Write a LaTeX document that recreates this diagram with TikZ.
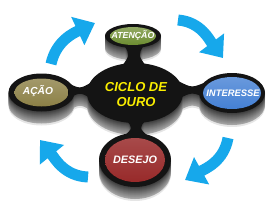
\documentclass[tikz,border=0pt]{standalone}
\usepackage{fontspec}
\setmainfont{Liberation Sans}
\usetikzlibrary{arrows.meta}
\definecolor{arrowblue}{RGB}{22,168,235}
\definecolor{atgreen}{RGB}{108,140,48}
\definecolor{inblue}{RGB}{68,128,212}
\definecolor{acolive}{RGB}{140,128,70}
\definecolor{dered}{RGB}{152,42,42}
\definecolor{ouroyellow}{RGB}{250,238,0}

% silhouette of the discs and the necks between them
\newcommand{\discshape}[1]{%
  \fill[#1] (135,117) ellipse [x radius=48pt, y radius=30pt];
  \fill[#1] (133,174) ellipse [x radius=28pt, y radius=12pt];
  \fill[#1] (232,117) ellipse [x radius=33pt, y radius=20pt];
  \fill[#1] (41.5,117.5) ellipse [x radius=33pt, y radius=19pt];
  \fill[#1] (135,50) ellipse [x radius=36pt, y radius=27pt];
  \fill[#1] (124,165) .. controls (130,155) .. (122,144) -- (146,144) .. controls (138,155) .. (144,165) -- cycle;
  \fill[#1] (126,90) .. controls (133,82) .. (124,74) -- (148,74) .. controls (139,82) .. (146,90) -- cycle;
  \fill[#1] (68,127) .. controls (80,121) .. (92,128) -- (92,111) .. controls (80,118) .. (68,111) -- cycle;
  \fill[#1] (178,129) .. controls (192,122) .. (206,128) -- (206,112) .. controls (192,118) .. (178,111) -- cycle;
}

\begin{document}
\begin{tikzpicture}[
    x=1pt, y=1pt,
    lbl/.style={text=white, font=\bfseries\itshape, inner sep=0pt},
    cyclearrow/.style={arrowblue, line width=11pt, -{Triangle[width=30pt,length=19pt]}}
]
\useasboundingbox (0,0) rectangle (270,210);

% side of the discs and soft shadow
\foreach \d in {14,13,...,1} {
  \pgfmathtruncatemacro{\shade}{\d>12 ? 10 : 78-3.5*\d}
  \begin{scope}[yshift=-\d pt]
    \discshape{black!\shade}
  \end{scope}
}
\discshape{black!92}

% coloured tops
\fill[top color=atgreen!75!white, bottom color=atgreen] (133,174) ellipse [x radius=23pt, y radius=9pt];
\fill[top color=inblue!80!white, bottom color=inblue] (232,117) ellipse [x radius=29pt, y radius=16pt];
\fill[top color=acolive!80!white, bottom color=acolive] (41.5,117.5) ellipse [x radius=27pt, y radius=14pt];
\fill[top color=dered!85!white, bottom color=dered] (135,50) ellipse [x radius=30pt, y radius=22pt];

\node[lbl, font=\fontsize{8.8}{10}\selectfont\bfseries\itshape] (atencao) at (133,175) {ATENÇÃO};
\node[lbl, font=\fontsize{9.4}{11}\selectfont\bfseries\itshape] (interesse) at (233,117) {INTERESSE};
\node[lbl, font=\fontsize{10.2}{12}\selectfont\bfseries\itshape] (acao) at (38,119) {AÇÃO};
\node[lbl, font=\fontsize{10.8}{12}\selectfont\bfseries\itshape] (desejo) at (135,50) {DESEJO};
\node[lbl, text=ouroyellow, align=center, font=\fontsize{13}{15}\selectfont\bfseries\itshape] (ciclo) at (136,115.5) {CICLO DE\\OURO};

% arrows of the cycle
\coordinate (a1s) at (51,146);  \coordinate (a1e) at (95,187);
\coordinate (a2s) at (178,190); \coordinate (a2e) at (223,152);
\coordinate (a3s) at (228,72);  \coordinate (a3e) at (185,30);
\coordinate (a4s) at (88,33);   \coordinate (a4e) at (40,70);
\draw[cyclearrow] (a1s) to[out=78, in=205] (a1e);
\draw[cyclearrow] (a2s) to[out=-5, in=127] (a2e);
\draw[cyclearrow] (a3s) to[out=-100, in=29] (a3e);
\draw[cyclearrow] (a4s) to[out=178, in=-51] (a4e);
\end{tikzpicture}
\end{document}
